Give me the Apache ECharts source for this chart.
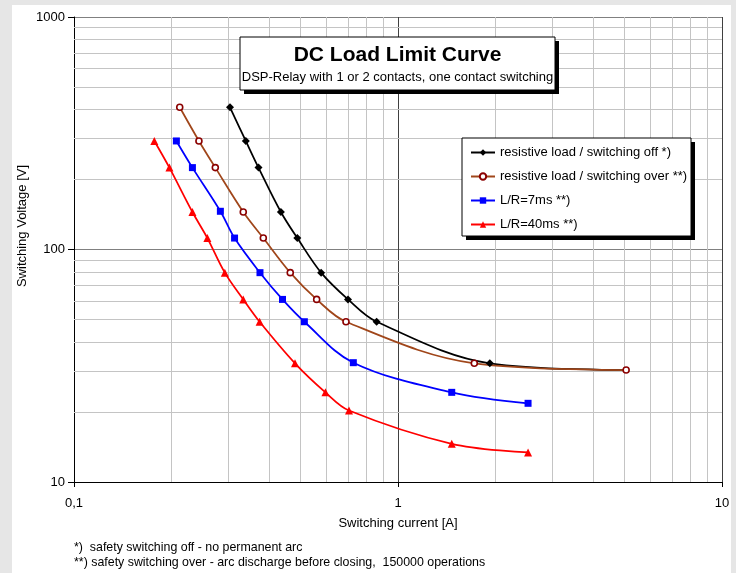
<!DOCTYPE html>
<html>
<head>
<meta charset="utf-8">
<script src="https://cdn.jsdelivr.net/npm/echarts@6/dist/echarts.min.js"></script>
<style>
html,body{margin:0;padding:0;background:#e6e6e6;}
#chart{width:736px;height:573px;}
</style>
</head>
<body>
<div id="chart"></div>
<script>
// ---- data ----
const seriesNames = [
  'resistive load / switching off *)',
  'resistive load / switching over **)',
  'L/R=7ms **)',
  'L/R=40ms **)'
];
const currentOff  = [0.303, 0.339, 0.371, 0.435, 0.489, 0.579, 0.701, 0.859, 1.92, 5.06];
const voltageOff  = [409, 293, 225, 145, 112, 79.5, 61, 48.9, 32.4, 30.3];
const currentOver = [0.212, 0.243, 0.273, 0.333, 0.384, 0.465, 0.561, 0.691, 1.72, 5.06];
const voltageOver = [409, 293, 225, 145, 112, 79.5, 61, 48.9, 32.4, 30.3];
const current7ms  = [0.207, 0.232, 0.283, 0.313, 0.375, 0.44, 0.514, 0.728, 1.465, 2.52];
const voltage7ms  = [293, 225, 146, 112, 79.5, 61, 48.9, 32.6, 24.3, 21.8];
const current40ms = [0.177, 0.197, 0.232, 0.258, 0.292, 0.333, 0.374, 0.481, 0.597, 0.706, 1.465, 2.52];
const voltage40ms = [293, 225, 145, 112, 79.5, 61, 48.9, 32.4, 24.3, 20.3, 14.6, 13.4];
const minorX = [0.2, 0.3, 0.4, 0.5, 0.6, 0.7, 0.8, 0.9, 2, 3, 4, 5, 6, 7, 8, 9];
const minorY = [20, 30, 40, 50, 60, 70, 80, 90, 200, 300, 400, 500, 600, 700, 800, 900];
const titleText = 'DC Load Limit Curve';
const subtitleText = 'DSP-Relay with 1 or 2 contacts, one contact switching';
const xAxisTitle = 'Switching current [A]';
const yAxisTitle = 'Switching Voltage [V]';
const footnotes = [
  '*)  safety switching off - no permanent arc',
  '**) safety switching over - arc discharge before closing,  150000 operations'
];

const FONT = '"Liberation Sans", Arial, sans-serif';
const zip = (xs, ys) => xs.map((x, i) => [x, ys[i]]);

const chart = echarts.init(document.getElementById('chart'), null, {renderer: 'canvas'});

const offData = zip(currentOff, voltageOff).map((p, i, arr) =>
  i === arr.length - 1 ? {value: p, symbolSize: 4} : p);

const option = {
  backgroundColor: '#e6e6e6',
  animation: false,
  textStyle: {fontFamily: FONT},
  grid: {left: 74, right: 14, top: 17, bottom: 91, containLabel: false},
  xAxis: {
    type: 'log', logBase: 10, min: 0.1, max: 10,
    name: xAxisTitle, nameLocation: 'middle', nameGap: 35,
    nameTextStyle: {color: '#000', fontSize: 13, fontFamily: FONT},
    axisLine: {show: true, lineStyle: {color: '#000', width: 1}},
    axisTick: {show: true, length: 5, lineStyle: {color: '#000'}},
    axisLabel: {color: '#000', fontSize: 13, fontFamily: FONT, margin: 15,
      formatter: v => (v < 0.5 ? '0,1' : String(Math.round(v)))},
    splitLine: {show: true, lineStyle: {color: '#404040', width: 1}},
    minorTick: {show: false}, minorSplitLine: {show: false}
  },
  yAxis: {
    type: 'log', logBase: 10, min: 10, max: 1000,
    axisLine: {show: true, lineStyle: {color: '#000', width: 1}},
    axisTick: {show: true, length: 6, lineStyle: {color: '#000'}},
    axisLabel: {color: '#000', fontSize: 13, fontFamily: FONT, margin: 9,
      formatter: v => String(Math.round(v))},
    splitLine: {show: true, lineStyle: {color: '#808080', width: 1}}
  },
  legend: {
    data: seriesNames,
    orient: 'vertical', left: 462, top: 138,
    padding: [8, 6, 8, 8],
    itemWidth: 24, itemHeight: 8, itemGap: 11,
    textStyle: {color: '#000', fontSize: 13, fontFamily: FONT},
    backgroundColor: 'transparent',
    selectedMode: false, z: 6
  },
  graphic: [
    {type: 'rect', z: -10, silent: true, shape: {x: 12, y: 5, width: 719, height: 580}, style: {fill: '#ffffff'}},
    // title box
    {type: 'rect', z: 5, silent: true, shape: {x: 244, y: 41, width: 315, height: 53}, style: {fill: '#000'}},
    {type: 'rect', z: 5, silent: true, shape: {x: 240, y: 37, width: 315, height: 53}, style: {fill: '#fff', stroke: '#000', lineWidth: 1}},
    {type: 'text', z: 6, silent: true, x: 397.5, y: 55, style: {text: titleText, font: 'bold 21px ' + FONT, fill: '#000', align: 'center', verticalAlign: 'middle'}},
    {type: 'text', z: 6, silent: true, x: 397.5, y: 77, style: {text: subtitleText, font: '13px ' + FONT, fill: '#000', align: 'center', verticalAlign: 'middle'}},
    // legend box
    {type: 'rect', z: 5, silent: true, shape: {x: 466, y: 142, width: 229, height: 98}, style: {fill: '#000'}},
    {type: 'rect', z: 5, silent: true, shape: {x: 462, y: 138, width: 229, height: 98}, style: {fill: '#fff', stroke: '#000', lineWidth: 1}},
    // y axis title
    {type: 'text', z: 6, silent: true, x: 22, y: 226, rotation: Math.PI / 2,
      style: {text: yAxisTitle, font: '13px ' + FONT, fill: '#000', align: 'center', verticalAlign: 'middle'}},
    // footnotes
    {type: 'text', z: 6, silent: true, x: 74, y: 548, style: {text: footnotes[0], font: '12.4px ' + FONT, fill: '#000', align: 'left', verticalAlign: 'middle'}},
    {type: 'text', z: 6, silent: true, x: 74, y: 563, style: {text: footnotes[1], font: '12.4px ' + FONT, fill: '#000', align: 'left', verticalAlign: 'middle'}}
  ],
  series: [
    {
      name: '_grid', type: 'line', data: [], z: 1, silent: true,
      markLine: {
        silent: true, z: 1, symbol: ['none', 'none'], label: {show: false}, animation: false,
        lineStyle: {color: '#c4c4c4', width: 1, type: 'solid'},
        data: minorX.map(v => ({xAxis: v})).concat(minorY.map(v => ({yAxis: v})))
      }
    },
    {
      name: seriesNames[0], type: 'line', z: 3, smooth: 0.35,
      data: offData,
      symbol: 'diamond', symbolSize: 8,
      lineStyle: {color: '#000', width: 1.75},
      itemStyle: {color: '#000', borderColor: '#000', borderWidth: 0}
    },
    {
      name: seriesNames[1], type: 'line', z: 3, smooth: 0.35,
      data: zip(currentOver, voltageOver),
      symbol: 'circle', symbolSize: 6, showAllSymbol: true,
      lineStyle: {color: '#a0461a', width: 1.75},
      itemStyle: {color: '#ffffff', borderColor: '#8b0000', borderWidth: 1.6}
    },
    {
      name: seriesNames[2], type: 'line', z: 3, smooth: 0.35,
      data: zip(current7ms, voltage7ms),
      symbol: 'rect', symbolSize: 7,
      lineStyle: {color: '#0000ff', width: 1.75},
      itemStyle: {color: '#0000ff', borderWidth: 0}
    },
    {
      name: seriesNames[3], type: 'line', z: 3, smooth: 0.35,
      data: zip(current40ms, voltage40ms),
      symbol: 'triangle', symbolSize: 8,
      lineStyle: {color: '#ff0000', width: 1.75},
      itemStyle: {color: '#ff0000', borderWidth: 0}
    }
  ]
};
chart.setOption(option);
</script>
</body>
</html>
